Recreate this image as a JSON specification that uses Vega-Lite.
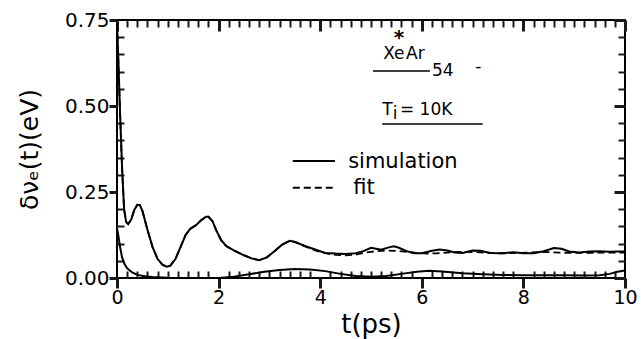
{
  "$schema": "https://vega.github.io/schema/vega-lite/v6.json",
  "width": 508,
  "height": 258,
  "autosize": {"type": "none"},
  "padding": {"left": 117, "top": 20, "right": 16, "bottom": 61},
  "background": "white",
  "config": {
    "view": {"stroke": "black", "strokeWidth": 2},
    "axis": {"domain": false, "grid": false, "zindex": 1, "labelColor": "black", "titleColor": "black", "labelFont": "DejaVu Sans", "titleFont": "DejaVu Sans", "titleFontWeight": "normal", "labelFlush": false}
  },
  "datasets": {
    "sim": [
      {"t": 0, "v": 0.74}, {"t": 0.03, "v": 0.62}, {"t": 0.06, "v": 0.48}, {"t": 0.1, "v": 0.32}, {"t": 0.14, "v": 0.2},
      {"t": 0.18, "v": 0.163}, {"t": 0.22, "v": 0.157}, {"t": 0.28, "v": 0.17}, {"t": 0.34, "v": 0.198}, {"t": 0.4, "v": 0.213},
      {"t": 0.45, "v": 0.212}, {"t": 0.5, "v": 0.195}, {"t": 0.6, "v": 0.14}, {"t": 0.7, "v": 0.09}, {"t": 0.8, "v": 0.055},
      {"t": 0.9, "v": 0.038}, {"t": 0.98, "v": 0.033}, {"t": 1.05, "v": 0.036}, {"t": 1.15, "v": 0.055}, {"t": 1.25, "v": 0.09},
      {"t": 1.35, "v": 0.125}, {"t": 1.44, "v": 0.143}, {"t": 1.55, "v": 0.153}, {"t": 1.65, "v": 0.167}, {"t": 1.75, "v": 0.178},
      {"t": 1.8, "v": 0.178}, {"t": 1.88, "v": 0.165}, {"t": 1.95, "v": 0.14}, {"t": 2.05, "v": 0.11}, {"t": 2.15, "v": 0.093},
      {"t": 2.3, "v": 0.08}, {"t": 2.5, "v": 0.066}, {"t": 2.65, "v": 0.057}, {"t": 2.8, "v": 0.052}, {"t": 2.95, "v": 0.06},
      {"t": 3.1, "v": 0.078}, {"t": 3.25, "v": 0.097}, {"t": 3.4, "v": 0.108}, {"t": 3.5, "v": 0.105}, {"t": 3.7, "v": 0.093},
      {"t": 3.9, "v": 0.083}, {"t": 4.1, "v": 0.073}, {"t": 4.3, "v": 0.071}, {"t": 4.5, "v": 0.07}, {"t": 4.7, "v": 0.072},
      {"t": 4.85, "v": 0.078}, {"t": 5.0, "v": 0.088}, {"t": 5.1, "v": 0.085}, {"t": 5.2, "v": 0.082}, {"t": 5.35, "v": 0.089},
      {"t": 5.45, "v": 0.092}, {"t": 5.55, "v": 0.088}, {"t": 5.7, "v": 0.078}, {"t": 5.85, "v": 0.072}, {"t": 6.0, "v": 0.072},
      {"t": 6.2, "v": 0.079}, {"t": 6.35, "v": 0.083}, {"t": 6.5, "v": 0.08}, {"t": 6.65, "v": 0.074}, {"t": 6.8, "v": 0.073},
      {"t": 7.0, "v": 0.08}, {"t": 7.15, "v": 0.079}, {"t": 7.35, "v": 0.073}, {"t": 7.6, "v": 0.072}, {"t": 7.8, "v": 0.075},
      {"t": 8.0, "v": 0.072}, {"t": 8.2, "v": 0.072}, {"t": 8.4, "v": 0.078}, {"t": 8.6, "v": 0.087}, {"t": 8.75, "v": 0.085},
      {"t": 8.9, "v": 0.077}, {"t": 9.1, "v": 0.074}, {"t": 9.3, "v": 0.077}, {"t": 9.5, "v": 0.078}, {"t": 9.7, "v": 0.076},
      {"t": 9.85, "v": 0.077}, {"t": 10, "v": 0.077}
    ],
    "fit": [
      {"t": 0, "v": 0.74}, {"t": 0.03, "v": 0.62}, {"t": 0.06, "v": 0.48}, {"t": 0.1, "v": 0.32}, {"t": 0.14, "v": 0.2},
      {"t": 0.18, "v": 0.163}, {"t": 0.22, "v": 0.157}, {"t": 0.28, "v": 0.17}, {"t": 0.34, "v": 0.198}, {"t": 0.4, "v": 0.213},
      {"t": 0.45, "v": 0.212}, {"t": 0.5, "v": 0.195}, {"t": 0.6, "v": 0.14}, {"t": 0.7, "v": 0.09}, {"t": 0.8, "v": 0.055},
      {"t": 0.9, "v": 0.038}, {"t": 0.98, "v": 0.033}, {"t": 1.05, "v": 0.036}, {"t": 1.15, "v": 0.055}, {"t": 1.25, "v": 0.09},
      {"t": 1.35, "v": 0.125}, {"t": 1.44, "v": 0.143}, {"t": 1.55, "v": 0.153}, {"t": 1.65, "v": 0.167}, {"t": 1.75, "v": 0.178},
      {"t": 1.8, "v": 0.178}, {"t": 1.88, "v": 0.165}, {"t": 1.95, "v": 0.14}, {"t": 2.05, "v": 0.11}, {"t": 2.15, "v": 0.093},
      {"t": 2.3, "v": 0.08}, {"t": 2.5, "v": 0.066}, {"t": 2.65, "v": 0.057}, {"t": 2.8, "v": 0.052}, {"t": 2.95, "v": 0.06},
      {"t": 3.1, "v": 0.078}, {"t": 3.25, "v": 0.097}, {"t": 3.4, "v": 0.108}, {"t": 3.5, "v": 0.105}, {"t": 3.7, "v": 0.092},
      {"t": 3.9, "v": 0.08}, {"t": 4.1, "v": 0.072}, {"t": 4.3, "v": 0.067}, {"t": 4.5, "v": 0.066}, {"t": 4.7, "v": 0.068},
      {"t": 4.9, "v": 0.074}, {"t": 5.1, "v": 0.078}, {"t": 5.3, "v": 0.08}, {"t": 5.5, "v": 0.079}, {"t": 5.7, "v": 0.076},
      {"t": 5.9, "v": 0.073}, {"t": 6.1, "v": 0.071}, {"t": 6.3, "v": 0.072}, {"t": 6.5, "v": 0.074}, {"t": 6.7, "v": 0.076},
      {"t": 6.9, "v": 0.076}, {"t": 7.1, "v": 0.075}, {"t": 7.3, "v": 0.073}, {"t": 7.5, "v": 0.072}, {"t": 7.7, "v": 0.072},
      {"t": 7.9, "v": 0.073}, {"t": 8.1, "v": 0.074}, {"t": 8.3, "v": 0.075}, {"t": 8.5, "v": 0.075}, {"t": 8.7, "v": 0.074},
      {"t": 8.9, "v": 0.073}, {"t": 9.1, "v": 0.073}, {"t": 9.3, "v": 0.073}, {"t": 9.5, "v": 0.074}, {"t": 9.7, "v": 0.074},
      {"t": 10, "v": 0.074}
    ],
    "low": [
      {"t": 0, "v": 0.145}, {"t": 0.03, "v": 0.12}, {"t": 0.06, "v": 0.09}, {"t": 0.1, "v": 0.06}, {"t": 0.15, "v": 0.04},
      {"t": 0.2, "v": 0.028}, {"t": 0.3, "v": 0.016}, {"t": 0.4, "v": 0.009}, {"t": 0.55, "v": 0.005}, {"t": 0.7, "v": 0.003},
      {"t": 1.0, "v": 0.001}, {"t": 1.5, "v": 0.0}, {"t": 2.0, "v": 0.0}, {"t": 2.3, "v": 0.004}, {"t": 2.6, "v": 0.011},
      {"t": 2.9, "v": 0.018}, {"t": 3.2, "v": 0.023}, {"t": 3.5, "v": 0.026}, {"t": 3.8, "v": 0.025}, {"t": 4.1, "v": 0.02},
      {"t": 4.4, "v": 0.012}, {"t": 4.7, "v": 0.006}, {"t": 5.0, "v": 0.004}, {"t": 5.3, "v": 0.006}, {"t": 5.6, "v": 0.012},
      {"t": 5.9, "v": 0.018}, {"t": 6.15, "v": 0.021}, {"t": 6.4, "v": 0.019}, {"t": 6.8, "v": 0.014}, {"t": 7.2, "v": 0.011},
      {"t": 7.6, "v": 0.009}, {"t": 8.0, "v": 0.008}, {"t": 8.4, "v": 0.008}, {"t": 8.8, "v": 0.008}, {"t": 9.2, "v": 0.007},
      {"t": 9.5, "v": 0.008}, {"t": 9.7, "v": 0.012}, {"t": 9.85, "v": 0.018}, {"t": 10, "v": 0.022}
    ],
    "legendLines": [
      {"t": 3.46, "t2": 4.29, "v": 0.34, "kind": "simulation"},
      {"t": 3.46, "t2": 4.29, "v": 0.262, "kind": "fit"}
    ],
    "legendText": [
      {"t": 4.55, "v": 0.337, "label": "simulation"},
      {"t": 4.65, "v": 0.262, "label": "fit"}
    ],
    "underlines": [
      {"t": 5.04, "t2": 6.16, "v": 0.602},
      {"t": 5.22, "t2": 7.2, "v": 0.448}
    ],
    "annoText": [
      {"t": 5.24, "v": 0.637, "label": "Xe"},
      {"t": 5.69, "v": 0.637, "label": "Ar"},
      {"t": 5.57, "v": 0.474, "label": "= 10K"},
      {"t": 5.22, "v": 0.474, "label": "T"},
      {"t": 7.05, "v": 0.6, "label": "-"}
    ],
    "annoSub": [
      {"t": 6.2, "v": 0.587, "label": "54"},
      {"t": 5.43, "v": 0.463, "label": "i"}
    ],
    "annoStar": [
      {"t": 5.45, "v": 0.68, "label": "*"}
    ]
  },
  "resolve": {"axis": {"x": "independent", "y": "independent"}},
  "layer": [
    {
      "data": {"name": "sim"},
      "mark": {"type": "line", "color": "black", "strokeWidth": 2},
      "encoding": {
        "x": {"field": "t", "type": "quantitative", "scale": {"domain": [0, 10], "nice": false},
              "axis": {"orient": "bottom", "values": [0, 2, 4, 6, 8, 10], "ticks": true, "tickColor": "#1a1a1a", "tickWidth": 3, "tickSize": 10, "labelFontSize": 19, "labelPadding": 0,
                       "title": "t(ps)", "titleFontSize": 26, "titlePadding": 4}},
        "y": {"field": "v", "type": "quantitative", "scale": {"domain": [0, 0.75], "nice": false},
              "axis": {"orient": "left", "values": [0, 0.25, 0.5, 0.75], "format": ".2f", "ticks": true, "tickColor": "#1a1a1a", "tickWidth": 3, "tickSize": 8, "labelFontSize": 20, "labelPadding": 0,
                       "title": "δνₑ(t)(eV)", "titleFontSize": 25, "titlePadding": 22}}
      }
    },
    {
      "data": {"name": "fit"},
      "mark": {"type": "line", "color": "black", "strokeWidth": 1.8, "strokeDash": [7, 4]},
      "encoding": {
        "x": {"field": "t", "type": "quantitative",
              "axis": {"orient": "bottom", "values": [0.2,0.4,0.6,0.8,1,1.2,1.4,1.6,1.8,2.2,2.4,2.6,2.8,3,3.2,3.4,3.6,3.8,4.2,4.4,4.6,4.8,5,5.2,5.4,5.6,5.8,6.2,6.4,6.6,6.8,7,7.2,7.4,7.6,7.8,8.2,8.4,8.6,8.8,9,9.2,9.4,9.6,9.8],
                       "ticks": true, "tickColor": "#1a1a1a", "tickWidth": 2, "tickSize": -7, "labels": false, "title": null}},
        "y": {"field": "v", "type": "quantitative",
              "axis": {"orient": "left", "values": [0.05, 0.1, 0.15, 0.2, 0.3, 0.35, 0.4, 0.45, 0.55, 0.6, 0.65, 0.7],
                       "ticks": true, "tickColor": "#1a1a1a", "tickWidth": 2, "tickSize": -7, "labels": false, "title": null}}
      }
    },
    {
      "data": {"name": "low"},
      "mark": {"type": "line", "color": "black", "strokeWidth": 2},
      "encoding": {
        "x": {"field": "t", "type": "quantitative",
              "axis": {"orient": "top", "values": [0, 2, 4, 6, 8, 10], "ticks": true, "tickColor": "#1a1a1a", "tickWidth": 3, "tickSize": -11, "labels": false, "title": null}},
        "y": {"field": "v", "type": "quantitative",
              "axis": {"orient": "right", "values": [0, 0.25, 0.5, 0.75], "ticks": true, "tickColor": "#1a1a1a", "tickWidth": 3, "tickSize": -11, "labels": false, "title": null}}
      }
    },
    {
      "data": {"name": "legendLines"},
      "mark": {"type": "rule", "color": "black", "strokeWidth": 2},
      "encoding": {
        "x": {"field": "t", "type": "quantitative",
              "axis": {"orient": "top", "values": [0.2,0.4,0.6,0.8,1,1.2,1.4,1.6,1.8,2.2,2.4,2.6,2.8,3,3.2,3.4,3.6,3.8,4.2,4.4,4.6,4.8,5,5.2,5.4,5.6,5.8,6.2,6.4,6.6,6.8,7,7.2,7.4,7.6,7.8,8.2,8.4,8.6,8.8,9,9.2,9.4,9.6,9.8],
                       "ticks": true, "tickColor": "#1a1a1a", "tickWidth": 2, "tickSize": -7, "labels": false, "title": null}},
        "x2": {"field": "t2"},
        "y": {"field": "v", "type": "quantitative",
              "axis": {"orient": "right", "values": [0.05, 0.1, 0.15, 0.2, 0.3, 0.35, 0.4, 0.45, 0.55, 0.6, 0.65, 0.7],
                       "ticks": true, "tickColor": "#1a1a1a", "tickWidth": 2, "tickSize": -7, "labels": false, "title": null}},
        "strokeDash": {"field": "kind", "type": "nominal", "scale": {"domain": ["simulation", "fit"], "range": [[1, 0], [7, 4]]}, "legend": null}
      }
    },
    {
      "data": {"name": "underlines"},
      "mark": {"type": "rule", "color": "black", "strokeWidth": 1.5},
      "encoding": {
        "x": {"field": "t", "type": "quantitative", "axis": null},
        "x2": {"field": "t2"},
        "y": {"field": "v", "type": "quantitative", "axis": null}
      }
    },
    {
      "data": {"name": "legendText"},
      "mark": {"type": "text", "align": "left", "baseline": "middle", "font": "DejaVu Sans", "fontSize": 21, "color": "black"},
      "encoding": {
        "x": {"field": "t", "type": "quantitative", "axis": null},
        "y": {"field": "v", "type": "quantitative", "axis": null},
        "text": {"field": "label"}
      }
    },
    {
      "data": {"name": "annoText"},
      "mark": {"type": "text", "align": "left", "baseline": "alphabetic", "font": "DejaVu Sans", "fontSize": 17, "color": "black"},
      "encoding": {
        "x": {"field": "t", "type": "quantitative", "axis": null},
        "y": {"field": "v", "type": "quantitative", "axis": null},
        "text": {"field": "label"}
      }
    },
    {
      "data": {"name": "annoSub"},
      "mark": {"type": "text", "align": "left", "baseline": "alphabetic", "font": "DejaVu Sans", "fontSize": 17, "color": "black"},
      "encoding": {
        "x": {"field": "t", "type": "quantitative", "axis": null},
        "y": {"field": "v", "type": "quantitative", "axis": null},
        "text": {"field": "label"}
      }
    },
    {
      "data": {"name": "annoStar"},
      "mark": {"type": "text", "align": "left", "baseline": "alphabetic", "font": "DejaVu Sans", "fontSize": 20, "fontWeight": "bold", "color": "black"},
      "encoding": {
        "x": {"field": "t", "type": "quantitative", "axis": null},
        "y": {"field": "v", "type": "quantitative", "axis": null},
        "text": {"field": "label"}
      }
    }
  ]
}
